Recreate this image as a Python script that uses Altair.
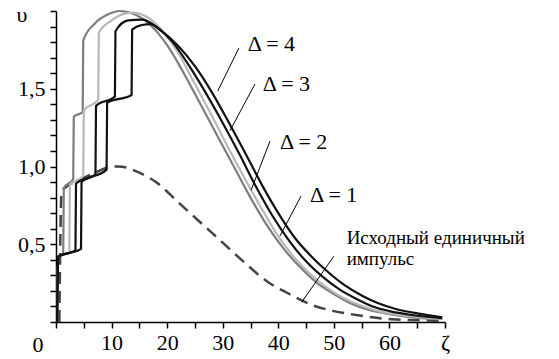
import altair as alt
import pandas as pd

# ---- data ----
x_ticks = list(range(0, 75, 5))
y_ticks = [round(i * 0.1, 1) for i in range(21)]

# Исходный единичный импульс (dashed)
z_src = [0.6, 1.0, 1.5, 4, 7, 9, 11, 13, 15, 18, 22, 26, 30, 34, 38, 42, 46, 50, 54, 58, 62, 66, 69.5]
v_src = [0, 0.84, 0.86, 0.91, 0.96, 0.99, 1.0, 0.99, 0.96, 0.9, 0.77, 0.64, 0.51, 0.38, 0.26, 0.18, 0.11, 0.07, 0.045, 0.025, 0.015, 0.01, 0.005]

# Δ = 1 (medium gray)
z_d1 = [0.2, 0.4, 1.3, 1.4, 3.1, 3.2, 4.8, 4.9, 7, 9.5, 11.5, 14, 17, 20, 23, 26, 29, 32, 35, 38, 41, 44, 47, 50, 53, 56, 60, 64, 69.5]
v_d1 = [0, 0.42, 0.44, 0.86, 0.92, 1.32, 1.35, 1.81, 1.92, 1.98, 2.0, 1.98, 1.91, 1.78, 1.6, 1.4, 1.2, 1.0, 0.8, 0.62, 0.47, 0.35, 0.25, 0.18, 0.12, 0.08, 0.05, 0.03, 0.02]

# Δ = 2 (light gray)
z_d2 = [0.2, 0.4, 2.4, 2.5, 4.9, 5.0, 7.6, 7.7, 10, 12, 13.8, 16, 19, 22, 25, 28, 31, 34, 37, 40, 43, 46, 49, 52, 55, 58, 62, 66, 69.5]
v_d2 = [0, 0.42, 0.45, 0.88, 0.94, 1.36, 1.43, 1.86, 1.94, 1.98, 1.99, 1.97, 1.88, 1.73, 1.53, 1.33, 1.12, 0.92, 0.73, 0.55, 0.41, 0.3, 0.215, 0.15, 0.105, 0.07, 0.045, 0.03, 0.02]

# Δ = 3 (black)
z_d3 = [0.2, 0.4, 3.5, 3.6, 7.1, 7.2, 10.6, 10.7, 13, 15.5, 18, 21, 24, 27, 30, 33, 36, 39, 42, 45, 48, 51, 54, 57, 60, 64, 69.5]
v_d3 = [0, 0.42, 0.46, 0.89, 0.95, 1.39, 1.45, 1.87, 1.94, 1.945, 1.9, 1.8, 1.645, 1.47, 1.28, 1.08, 0.87, 0.68, 0.52, 0.39, 0.29, 0.21, 0.15, 0.1, 0.07, 0.045, 0.025]

# Δ = 4 (black)
z_d4 = [0.2, 0.4, 4.5, 4.6, 9.1, 9.2, 13.6, 13.7, 15.5, 17, 19, 22, 25, 28, 31, 34, 37, 40, 43, 46, 49, 52, 55, 58, 61, 65, 69.5]
v_d4 = [0, 0.42, 0.47, 0.90, 0.98, 1.41, 1.46, 1.88, 1.91, 1.915, 1.87, 1.775, 1.645, 1.48, 1.29, 1.09, 0.885, 0.7, 0.54, 0.42, 0.32, 0.235, 0.17, 0.12, 0.085, 0.055, 0.03]

# annotations
label_text = ["Δ = 4", "Δ = 3", "Δ = 2", "Δ = 1"]
label_z = [34.5, 37.2, 40.3, 45.7]
label_v = [1.74, 1.485, 1.111, 0.770]

src_text = ["Исходный единичный", "импульс"]
src_z = [52.3, 52.3]
src_v = [0.50, 0.365]

# leader lines
lead_z1 = [32.9, 35.8, 38.5, 44.1, 50.0]
lead_v1 = [1.761, 1.53, 1.163, 0.81, 0.423]
lead_z2 = [29.1, 31.3, 35.1, 40.3, 44.2]
lead_v2 = [1.485, 1.23, 0.847, 0.553, 0.127]

FONT = "Liberation Serif"

xscale = alt.Scale(domain=[0, 70], nice=False, zero=False)
yscale = alt.Scale(domain=[0, 2], nice=False, zero=False)

xaxis = alt.Axis(
    values=x_ticks,
    labelExpr="datum.value == 70 ? 'ζ' : ((datum.value % 10 == 0 && datum.value > 0) ? datum.label : '')",
    title=None, grid=False, domainColor="black", domainWidth=1.5,
    tickColor="black", tickWidth=1.5, tickSize=6,
    labelFont=FONT, labelFontSize=22, labelColor="black", labelPadding=4,
    labelFlush=False, labelOverlap=False,
)
yaxis = alt.Axis(
    values=y_ticks,
    labelExpr="(round(datum.value * 10) % 5 == 0 && datum.value > 0.01 && datum.value < 1.95) ? replace(format(datum.value, '.1f'), '.', ',') : ''",
    title=None, grid=False, domainColor="black", domainWidth=1.5,
    tickColor="black", tickWidth=1.5, tickSize=6,
    labelFont=FONT, labelFontSize=22, labelColor="black", labelPadding=5,
    labelFlush=False, labelOverlap=False,
)


def curve(z, v, color, width, dash=None):
    df = pd.DataFrame({"z": z, "v": v})
    kw = dict(color=color, strokeWidth=width, interpolate="monotone")
    if dash:
        kw["strokeDash"] = dash
    return alt.Chart(df).mark_line(**kw).encode(
        x=alt.X("z:Q", scale=xscale, axis=xaxis),
        y=alt.Y("v:Q", scale=yscale, axis=yaxis),
    )


src = curve(z_src, v_src, "#444444", 2.5, [12, 7])
d1 = curve(z_d1, v_d1, "#7d7d7d", 2.2)
d2 = curve(z_d2, v_d2, "#b8b8b8", 2.2)
d3 = curve(z_d3, v_d3, "#111111", 2.2)
d4 = curve(z_d4, v_d4, "#111111", 2.2)

leads_df = pd.DataFrame({"z1": lead_z1, "v1": lead_v1, "z2": lead_z2, "v2": lead_v2})
leads = alt.Chart(leads_df).mark_rule(color="black", strokeWidth=1).encode(
    x=alt.X("z1:Q", scale=xscale, axis=xaxis),
    y=alt.Y("v1:Q", scale=yscale, axis=yaxis),
    x2="z2:Q", y2="v2:Q",
)

labels_df = pd.DataFrame({"z": label_z, "v": label_v, "t": label_text})
labels = alt.Chart(labels_df).mark_text(
    align="left", baseline="alphabetic", font=FONT, fontSize=22, color="black"
).encode(
    x=alt.X("z:Q", scale=xscale, axis=xaxis),
    y=alt.Y("v:Q", scale=yscale, axis=yaxis),
    text="t:N",
)

srclab_df = pd.DataFrame({"z": src_z, "v": src_v, "t": src_text})
srclab = alt.Chart(srclab_df).mark_text(
    align="left", baseline="alphabetic", font=FONT, fontSize=19, color="black"
).encode(
    x=alt.X("z:Q", scale=xscale, axis=xaxis),
    y=alt.Y("v:Q", scale=yscale, axis=yaxis),
    text="t:N",
)

origin_df = pd.DataFrame({"z": [0], "v": [0], "t": ["0"]})
origin = alt.Chart(origin_df).mark_text(
    align="center", baseline="alphabetic", font=FONT, fontSize=22, color="black", dx=-18, dy=30
).encode(x=alt.X("z:Q", scale=xscale, axis=xaxis), y=alt.Y("v:Q", scale=yscale, axis=yaxis), text="t:N")

ylab_df = pd.DataFrame({"z": [0], "v": [2], "t": ["υ"]})
ylab = alt.Chart(ylab_df).mark_text(
    align="center", baseline="alphabetic", font=FONT, fontSize=22, color="black", dx=-34, dy=11
).encode(x=alt.X("z:Q", scale=xscale, axis=xaxis), y=alt.Y("v:Q", scale=yscale, axis=yaxis), text="t:N")

chart = alt.layer(src, d1, d2, d3, d4, leads, labels, srclab, origin, ylab).properties(
    width=389, height=311,
    autosize=alt.AutoSizeParams(type="none"),
    padding={"left": 48, "top": 3, "right": 106, "bottom": 36},
).configure_view(stroke=None)

chart.save("out.html", embed_options={"renderer": "svg", "actions": False})
